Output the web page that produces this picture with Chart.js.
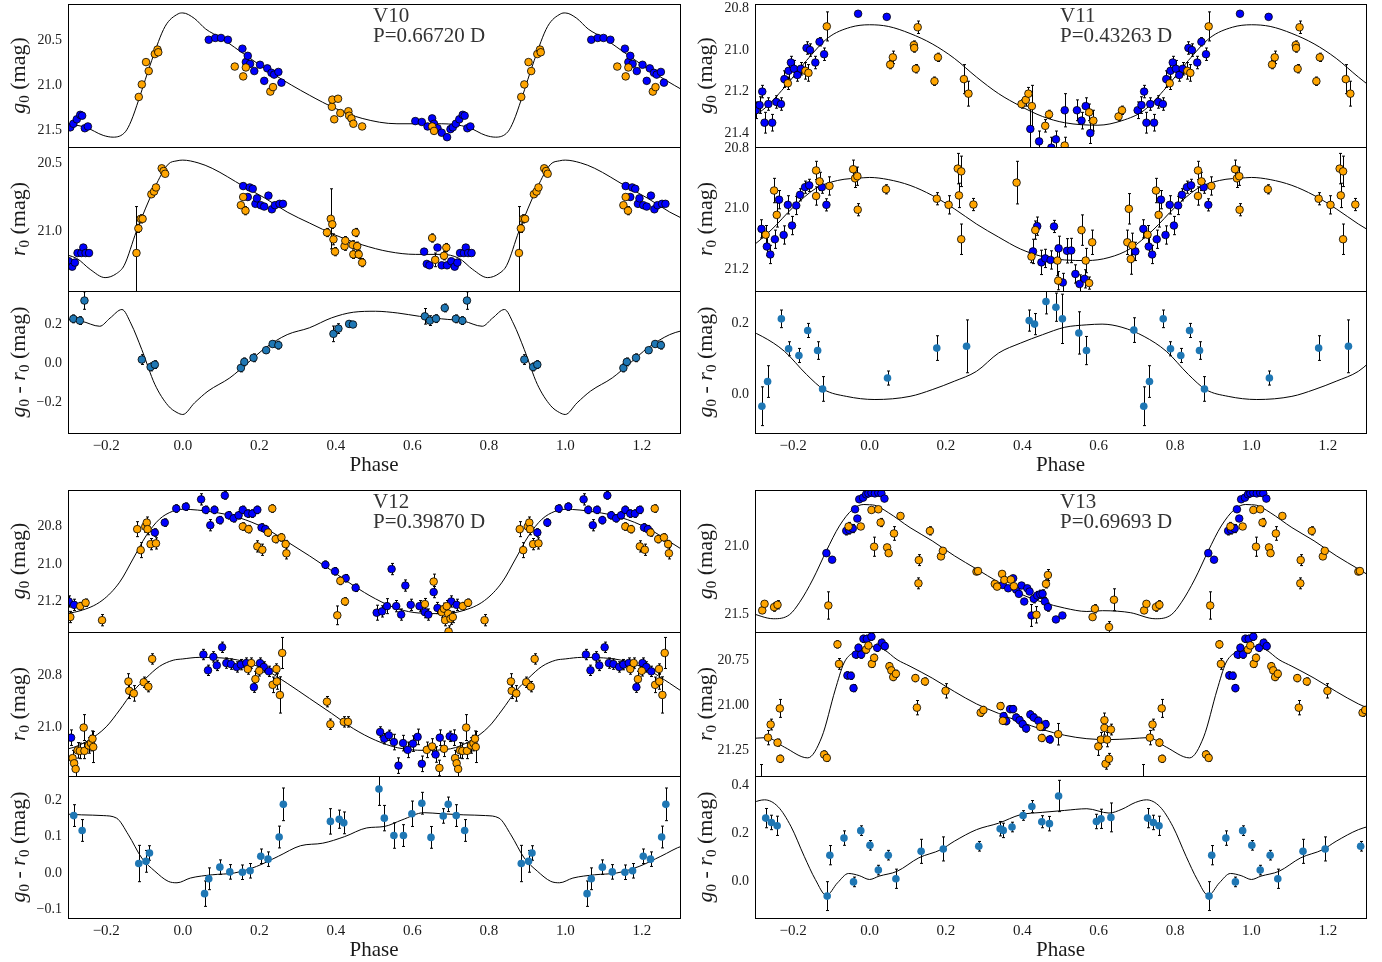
<!DOCTYPE html>
<html>
<head>
<meta charset="utf-8">
<script src="https://cdn.jsdelivr.net/npm/chart.js@4"></script>
<style>
  html, body { margin: 0; padding: 0; background: #fff; }
  body { width: 1382px; height: 962px; position: relative; overflow: hidden; }
  canvas { position: absolute; }
</style>
</head>
<body>
<script>
// ---------- phase-folded photometry: [phase, value, error] over one cycle ----------
const phaseTicks = [-0.2, 0.0, 0.2, 0.4, 0.6, 0.8, 1.0, 1.2];

// V10
const v10gBlue = [[0.068,20.49,0.01],[0.085,20.47,0.01],[0.100,20.47,0.01],[0.118,20.49,0.01],[0.156,20.59,0.02],[0.165,20.74,0.02],[0.170,20.67,0.02],[0.176,20.76,0.02],[0.187,20.84,0.02],[0.202,20.77,0.02],[0.213,20.95,0.02],[0.221,20.81,0.02],[0.232,20.86,0.02],[0.239,20.88,0.02],[0.250,20.85,0.02],[0.258,20.97,0.02],[0.608,21.40,0.01],[0.625,21.41,0.01],[0.640,21.46,0.02],[0.652,21.37,0.02],[0.657,21.43,0.02],[0.666,21.48,0.03],[0.677,21.53,0.02],[0.691,21.58,0.02],[0.700,21.49,0.02],[0.706,21.47,0.02],[0.714,21.43,0.02],[0.723,21.38,0.02],[0.732,21.33,0.02],[0.737,21.34,0.02],[0.744,21.48,0.02],[0.752,21.46,0.02]];
const v10gOrange = [[0.136,20.79,0.02],[0.158,20.90,0.02],[0.165,20.80,0.02],[0.229,21.07,0.02],[0.236,21.02,0.02],[0.390,21.24,0.03],[0.391,21.16,0.03],[0.396,21.38,0.03],[0.406,21.15,0.03],[0.412,21.31,0.03],[0.433,21.29,0.03],[0.435,21.34,0.03],[0.441,21.37,0.03],[0.446,21.43,0.03],[0.469,21.46,0.03],[0.652,21.46,0.03],[0.657,21.51,0.03],[0.885,21.13,0.02],[0.893,20.99,0.02],[0.904,20.74,0.02],[0.911,20.84,0.03],[0.927,20.65,0.02],[0.934,20.60,0.02],[0.936,20.63,0.02]];
const v10gModel = [[0,20.19],[0.03,20.25],[0.06,20.37],[0.1,20.47],[0.17,20.68],[0.239,20.88],[0.331,21.11],[0.40,21.26],[0.469,21.37],[0.56,21.43],[0.677,21.43],[0.746,21.47],[0.792,21.56],[0.818,21.58],[0.85,21.52],[0.865,21.40],[0.885,21.16],[0.919,20.72],[0.954,20.34],[0.988,20.20]];
const v10rBlue = [[0.158,20.67,0.02],[0.170,20.75,0.02],[0.175,20.68,0.02],[0.183,20.69,0.02],[0.190,20.80,0.02],[0.194,20.76,0.02],[0.204,20.81,0.02],[0.213,20.82,0.02],[0.224,20.74,0.02],[0.233,20.84,0.02],[0.241,20.81,0.02],[0.253,20.80,0.02],[0.262,20.80,0.02],[0.631,21.15,0.02],[0.638,21.24,0.02],[0.645,21.25,0.02],[0.666,21.12,0.02],[0.677,21.25,0.02],[0.691,21.25,0.02],[0.702,21.22,0.02],[0.711,21.26,0.02],[0.718,21.23,0.02],[0.725,21.16,0.02],[0.735,21.16,0.02],[0.740,21.12,0.02],[0.746,21.16,0.02],[0.755,21.16,0.02]];
const v10rOrange = [[0.152,20.81,0.02],[0.158,20.75,0.02],[0.164,20.85,0.03],[0.377,21.01,0.03],[0.387,20.91,0.22],[0.391,20.95,0.03],[0.394,21.06,0.04],[0.398,21.15,0.03],[0.423,21.11,0.03],[0.425,21.07,0.03],[0.444,21.10,0.03],[0.446,21.17,0.03],[0.452,21.01,0.03],[0.456,21.11,0.03],[0.460,21.17,0.03],[0.469,21.23,0.03],[0.652,21.05,0.03],[0.660,21.21,0.05],[0.683,21.18,0.03],[0.689,21.12,0.03],[0.879,21.16,0.34],[0.884,20.98,0.03],[0.890,20.91,0.03],[0.895,20.91,0.02],[0.918,20.73,0.02],[0.925,20.71,0.02],[0.930,20.68,0.02],[0.945,20.54,0.02],[0.950,20.56,0.02],[0.954,20.58,0.02]];
const v10rModel = [[0,20.48],[0.04,20.50],[0.077,20.54],[0.158,20.67],[0.216,20.76],[0.273,20.86],[0.331,20.94],[0.40,21.03],[0.469,21.10],[0.539,21.15],[0.608,21.17],[0.677,21.17],[0.723,21.20],[0.758,21.28],[0.797,21.34],[0.827,21.31],[0.847,21.25],[0.879,21.0],[0.927,20.68],[0.962,20.51],[0.985,20.485]];
const v10grPts = [[0.152,-0.026,0.02],[0.161,0.005,0.02],[0.185,0.026,0.02],[0.218,0.065,0.015],[0.235,0.097,0.015],[0.250,0.091,0.02],[0.394,0.149,0.04],[0.407,0.176,0.025],[0.435,0.20,0.015],[0.445,0.197,0.015],[0.633,0.239,0.04],[0.646,0.217,0.025],[0.662,0.227,0.02],[0.685,0.282,0.02],[0.714,0.226,0.02],[0.731,0.217,0.02],[0.743,0.32,0.045],[0.893,0.017,0.025],[0.916,-0.021,0.02],[0.927,-0.009,0.02]];
const v10grModel = [[0,-0.265],[0.031,-0.205],[0.066,-0.145],[0.123,-0.077],[0.17,0.0],[0.216,0.077],[0.273,0.145],[0.331,0.18],[0.389,0.231],[0.446,0.26],[0.504,0.265],[0.562,0.256],[0.619,0.239],[0.677,0.226],[0.735,0.214],[0.783,0.188],[0.81,0.23],[0.841,0.274],[0.865,0.2],[0.893,0.068],[0.927,-0.11],[0.962,-0.22],[0.985,-0.255]];

// V11
const v11gBlue = [[0.970,20.825,0.005],[0.045,20.84,0.005],[0.421,21.38,0.1],[0.444,21.44,0.05],[0.476,21.47,0.05],[0.488,21.43,0.04],[0.511,21.29,0.08],[0.543,21.29,0.05],[0.555,21.34,0.04],[0.566,21.27,0.04],[0.578,21.40,0.05],[0.702,21.29,0.04],[0.712,21.265,0.04],[0.719,21.20,0.03],[0.725,21.35,0.05],[0.735,21.26,0.03],[0.745,21.35,0.04],[0.756,21.25,0.03],[0.768,21.26,0.03],[0.777,21.14,0.04],[0.788,21.10,0.04],[0.794,21.06,0.03],[0.802,21.09,0.04],[0.811,21.12,0.03],[0.820,21.09,0.03],[0.835,20.99,0.03],[0.844,21.00,0.03],[0.858,21.06,0.03],[0.869,20.96,0.02],[0.881,21.02,0.03]];
const v11gOrange = [[0.054,21.07,0.02],[0.061,21.035,0.03],[0.116,20.976,0.02],[0.117,20.99,0.02],[0.121,21.09,0.02],[0.126,20.89,0.03],[0.170,21.15,0.02],[0.179,21.035,0.02],[0.247,21.14,0.07],[0.259,21.21,0.06],[0.398,21.26,0.02],[0.409,21.24,0.03],[0.416,21.21,0.03],[0.425,21.27,0.1],[0.460,21.365,0.03],[0.470,21.31,0.02],[0.511,21.46,0.04],[0.575,21.30,0.04],[0.586,21.34,0.05],[0.652,21.32,0.02],[0.661,21.29,0.02],[0.786,21.16,0.03],[0.832,21.10,0.04],[0.840,21.11,0.04],[0.888,20.886,0.07]];
const v11gModel = [[0,20.878],[0.049,20.886],[0.106,20.92],[0.164,20.97],[0.222,21.04],[0.28,21.13],[0.338,21.21],[0.395,21.27],[0.453,21.32],[0.511,21.35],[0.598,21.362],[0.661,21.34],[0.719,21.29],[0.777,21.18],[0.835,21.05],[0.892,20.94],[0.95,20.89]];
const v11rBlue = [[0.428,21.14,0.04],[0.439,21.057,0.03],[0.45,21.176,0.04],[0.46,21.163,0.03],[0.474,21.168,0.03],[0.483,21.058,0.02],[0.495,21.13,0.04],[0.506,21.242,0.03],[0.517,21.138,0.04],[0.528,21.137,0.04],[0.539,21.214,0.03],[0.55,21.247,0.03],[0.563,21.23,0.03],[0.696,21.14,0.03],[0.717,21.066,0.03],[0.731,21.124,0.03],[0.740,21.15,0.03],[0.752,21.10,0.03],[0.763,20.97,0.03],[0.775,21.086,0.03],[0.786,20.987,0.03],[0.797,21.055,0.03],[0.808,20.989,0.03],[0.818,20.954,0.02],[0.831,20.929,0.02],[0.842,20.923,0.02],[0.875,20.929,0.02],[0.887,20.987,0.02]];
const v11rOrange = [[0.043,20.936,0.015],[0.176,20.967,0.02],[0.207,20.987,0.03],[0.231,20.868,0.05],[0.234,20.956,0.04],[0.240,20.877,0.05],[0.240,21.10,0.05],[0.272,20.986,0.02],[0.385,20.914,0.07],[0.424,21.157,0.02],[0.434,21.07,0.03],[0.492,21.17,0.05],[0.494,21.236,0.03],[0.555,21.07,0.05],[0.566,21.17,0.04],[0.575,21.244,0.02],[0.583,21.11,0.04],[0.675,21.11,0.04],[0.679,21.0,0.05],[0.684,21.165,0.05],[0.688,21.12,0.04],[0.728,21.085,0.03],[0.750,20.94,0.04],[0.757,21.02,0.04],[0.860,20.874,0.03],[0.860,20.958,0.03],[0.869,20.91,0.03],[0.895,20.925,0.03],[0.957,20.87,0.03],[0.962,20.90,0.03],[0.968,20.893,0.03],[0.969,21.003,0.02]];
const v11rModel = [[0,20.897],[0.049,20.904],[0.106,20.923],[0.164,20.956],[0.222,21.0],[0.28,21.05],[0.338,21.093],[0.395,21.132],[0.453,21.157],[0.511,21.168],[0.569,21.17],[0.627,21.16],[0.684,21.13],[0.742,21.07],[0.80,20.995],[0.858,20.934],[0.916,20.907],[0.985,20.898]];
const v11grPts = [[0.047,0.045,0.02],[0.176,0.13,0.035],[0.254,0.135,0.075],[0.418,0.208,0.03],[0.432,0.198,0.03],[0.462,0.262,0.035],[0.488,0.246,0.04],[0.505,0.213,0.07],[0.548,0.173,0.06],[0.568,0.123,0.04],[0.692,0.181,0.035],[0.718,-0.035,0.055],[0.733,0.035,0.045],[0.769,0.213,0.025],[0.788,0.128,0.02],[0.815,0.109,0.02],[0.838,0.18,0.02],[0.864,0.123,0.025],[0.877,0.014,0.035]];
const v11grModel = [[0.014,-0.016],[0.106,-0.007],[0.164,0.012],[0.222,0.036],[0.28,0.064],[0.338,0.116],[0.395,0.144],[0.453,0.168],[0.511,0.189],[0.569,0.196],[0.609,0.198],[0.661,0.189],[0.719,0.163],[0.777,0.121],[0.835,0.055],[0.881,0.012],[0.939,-0.007]];

// V12
const v12gBlue = [[0.008,20.694,0.02],[0.048,20.655,0.03],[0.06,20.711,0.02],[0.072,20.793,0.03],[0.083,20.711,0.02],[0.097,20.766,0.02],[0.11,20.634,0.02],[0.12,20.74,0.02],[0.133,20.756,0.02],[0.146,20.74,0.02],[0.157,20.711,0.02],[0.17,20.731,0.02],[0.182,20.731,0.02],[0.195,20.711,0.02],[0.206,20.805,0.02],[0.216,20.814,0.02],[0.373,21.004,0.02],[0.398,21.039,0.02],[0.426,21.076,0.02],[0.452,21.127,0.02],[0.507,21.26,0.04],[0.521,21.253,0.03],[0.534,21.225,0.04],[0.546,21.027,0.03],[0.558,21.225,0.03],[0.571,21.27,0.03],[0.582,21.115,0.03],[0.596,21.218,0.03],[0.619,21.225,0.03],[0.633,21.257,0.03],[0.642,21.27,0.03],[0.656,21.15,0.03],[0.666,21.235,0.03],[0.702,21.2,0.03],[0.716,21.218,0.03],[0.927,20.832,0.02],[0.953,20.779,0.02],[0.983,20.704,0.02]];
const v12gOrange = [[0.157,20.80,0.02],[0.172,20.814,0.02],[0.195,20.906,0.03],[0.208,20.924,0.03],[0.223,20.832,0.02],[0.234,20.704,0.02],[0.243,20.867,0.02],[0.258,20.858,0.02],[0.269,20.894,0.02],[0.271,20.943,0.03],[0.404,21.274,0.05],[0.412,21.09,0.02],[0.424,21.2,0.02],[0.633,21.214,0.03],[0.656,21.094,0.04],[0.677,21.257,0.03],[0.683,21.239,0.03],[0.686,21.30,0.03],[0.69,21.225,0.03],[0.694,21.265,0.03],[0.695,21.36,0.03],[0.7,21.292,0.03],[0.706,21.283,0.03],[0.732,21.225,0.02],[0.746,21.207,0.02],[0.789,21.30,0.03],[0.881,20.814,0.04],[0.89,20.926,0.04],[0.902,20.80,0.03],[0.906,20.779,0.03],[0.908,20.814,0.03],[0.916,20.894,0.03],[0.93,20.89,0.03]];
const v12gModel = [[0,20.708],[0.077,20.722],[0.146,20.752],[0.216,20.81],[0.273,20.881],[0.331,20.956],[0.389,21.035],[0.446,21.115],[0.504,21.186],[0.562,21.239],[0.619,21.262],[0.677,21.265],[0.731,21.25],[0.789,21.195],[0.835,21.097],[0.87,20.973],[0.904,20.85],[0.939,20.761],[0.973,20.719]];
const v12rBlue = [[0.054,20.718,0.02],[0.066,20.779,0.02],[0.08,20.727,0.02],[0.089,20.76,0.02],[0.103,20.69,0.02],[0.114,20.751,0.02],[0.126,20.755,0.02],[0.141,20.766,0.02],[0.152,20.757,0.02],[0.166,20.751,0.02],[0.186,20.844,0.02],[0.202,20.751,0.02],[0.212,20.766,0.02],[0.225,20.783,0.02],[0.516,21.017,0.02],[0.527,21.043,0.02],[0.539,21.03,0.02],[0.552,21.056,0.03],[0.564,21.147,0.03],[0.576,21.06,0.03],[0.588,21.086,0.03],[0.602,21.062,0.03],[0.614,21.036,0.03],[0.625,21.14,0.03],[0.661,21.104,0.03],[0.672,21.039,0.03],[0.698,21.034,0.02],[0.708,21.039,0.03]];
const v12rOrange = [[0.17,20.774,0.02],[0.179,20.751,0.02],[0.19,20.813,0.03],[0.2,20.781,0.02],[0.235,20.835,0.03],[0.245,20.774,0.02],[0.246,20.822,0.03],[0.254,20.874,0.07],[0.26,20.712,0.06],[0.377,20.9,0.02],[0.386,20.987,0.02],[0.421,20.978,0.02],[0.432,20.978,0.02],[0.638,21.086,0.03],[0.652,21.073,0.03],[0.671,21.156,0.03],[0.683,21.082,0.03],[0.712,21.118,0.03],[0.716,21.138,0.03],[0.72,21.16,0.03],[0.725,21.088,0.03],[0.731,21.09,0.03],[0.741,21.0,0.05],[0.743,21.09,0.03],[0.754,21.069,0.03],[0.76,21.06,0.03],[0.764,21.043,0.03],[0.766,21.075,0.06],[0.858,20.822,0.03],[0.86,20.858,0.03],[0.872,20.868,0.03],[0.898,20.825,0.02],[0.91,20.842,0.02],[0.92,20.735,0.02]];
const v12rModel = [[0,20.735],[0.043,20.729],[0.1,20.731],[0.158,20.744],[0.216,20.777],[0.273,20.829],[0.331,20.887],[0.389,20.945],[0.446,21.004],[0.504,21.049],[0.562,21.078],[0.631,21.088],[0.7,21.082],[0.754,21.049],[0.80,20.997],[0.835,20.932],[0.87,20.861],[0.904,20.809],[0.939,20.764],[0.975,20.74]];
const v12grPts = [[0.057,-0.057,0.035],[0.068,-0.016,0.03],[0.097,0.016,0.02],[0.123,0.003,0.02],[0.156,0.002,0.02],[0.176,0.006,0.02],[0.204,0.046,0.02],[0.223,0.038,0.02],[0.252,0.099,0.03],[0.263,0.189,0.045],[0.386,0.142,0.035],[0.409,0.148,0.025],[0.421,0.138,0.03],[0.513,0.231,0.045],[0.527,0.151,0.035],[0.552,0.103,0.035],[0.577,0.103,0.03],[0.599,0.163,0.035],[0.625,0.192,0.03],[0.649,0.098,0.03],[0.681,0.157,0.02],[0.694,0.189,0.02],[0.715,0.158,0.03],[0.737,0.117,0.03],[0.885,0.026,0.05],[0.904,0.032,0.03],[0.913,0.055,0.02]];
const v12grModel = [[0.02,-0.014],[0.077,-0.005],[0.135,0.0],[0.193,0.018],[0.25,0.046],[0.308,0.075],[0.366,0.082],[0.423,0.10],[0.481,0.124],[0.527,0.128],[0.573,0.146],[0.631,0.166],[0.677,0.163],[0.735,0.16],[0.792,0.158],[0.827,0.151],[0.858,0.105],[0.893,0.041],[0.927,0.005],[0.962,-0.023],[0.985,-0.027]];

// V13
const v13gBlue = [[0.005,20.607,0.02],[0.014,20.612,0.02],[0.023,20.607,0.02],[0.031,20.612,0.02],[0.039,20.65,0.02],[0.349,21.282,0.02],[0.363,21.306,0.02],[0.376,21.233,0.02],[0.384,21.316,0.02],[0.391,21.347,0.02],[0.398,21.286,0.02],[0.405,21.403,0.02],[0.413,21.306,0.02],[0.419,21.33,0.02],[0.424,21.505,0.08],[0.43,21.383,0.03],[0.439,21.359,0.03],[0.447,21.35,0.03],[0.453,21.347,0.03],[0.459,21.403,0.03],[0.467,21.444,0.03],[0.488,21.534,0.02],[0.505,21.505,0.02],[0.887,21.049,0.02],[0.902,21.097,0.02],[0.939,20.886,0.03],[0.947,20.879,0.03],[0.956,20.869,0.03],[0.962,20.728,0.02],[0.968,20.796,0.02],[0.973,20.655,0.02],[0.983,20.643,0.02],[0.991,20.619,0.02],[0.997,20.612,0.02]];
const v13gOrange = [[0.005,20.733,0.02],[0.012,21.002,0.07],[0.023,20.728,0.02],[0.029,20.825,0.03],[0.046,21.007,0.02],[0.05,21.049,0.02],[0.064,20.905,0.05],[0.081,20.777,0.02],[0.128,21.27,0.04],[0.129,21.1,0.04],[0.158,20.886,0.03],[0.187,21.073,0.02],[0.192,21.032,0.02],[0.28,21.184,0.02],[0.284,21.18,0.02],[0.328,21.274,0.02],[0.334,21.294,0.02],[0.347,21.201,0.02],[0.353,21.245,0.02],[0.37,21.243,0.02],[0.378,21.291,0.02],[0.437,21.5,0.06],[0.462,21.274,0.03],[0.467,21.209,0.04],[0.584,21.517,0.02],[0.59,21.456,0.03],[0.627,21.59,0.04],[0.64,21.39,0.08],[0.719,21.468,0.02],[0.725,21.42,0.02],[0.75,21.444,0.03],[0.759,21.427,0.03],[0.892,21.432,0.1],[0.945,20.854,0.03],[0.977,20.854,0.02]];
const v13gModel = [[0,20.695],[0.014,20.699],[0.049,20.752],[0.106,20.862],[0.164,20.959],[0.222,21.068],[0.28,21.165],[0.338,21.262],[0.395,21.347],[0.453,21.408],[0.511,21.451],[0.569,21.476],[0.61,21.47],[0.65,21.474],[0.684,21.485],[0.748,21.529],[0.79,21.5],[0.817,21.408],[0.852,21.238],[0.887,21.032],[0.921,20.85],[0.956,20.728],[0.985,20.693]];
const v13rBlue = [[0.005,20.617,0.02],[0.02,20.679,0.02],[0.032,20.651,0.02],[0.04,20.67,0.02],[0.351,21.06,0.02],[0.358,21.088,0.02],[0.368,21.021,0.02],[0.376,21.021,0.02],[0.384,21.068,0.02],[0.393,21.083,0.02],[0.401,21.105,0.02],[0.41,21.129,0.02],[0.421,21.051,0.02],[0.43,21.068,0.02],[0.442,21.086,0.02],[0.453,21.12,0.02],[0.461,21.105,0.02],[0.472,21.19,0.02],[0.942,20.833,0.02],[0.951,20.835,0.02],[0.958,20.904,0.02],[0.964,20.717,0.02],[0.971,20.679,0.02],[0.978,20.717,0.02],[0.984,20.629,0.02],[0.993,20.629,0.02]];
const v13rOrange = [[0.006,20.769,0.02],[0.012,20.735,0.02],[0.052,20.782,0.02],[0.057,20.805,0.02],[0.062,20.842,0.02],[0.069,20.824,0.02],[0.12,20.848,0.02],[0.124,21.013,0.04],[0.145,20.867,0.02],[0.199,20.919,0.04],[0.291,21.041,0.02],[0.298,21.026,0.02],[0.343,21.004,0.02],[0.349,21.086,0.02],[0.447,21.12,0.02],[0.451,21.182,0.02],[0.494,21.161,0.06],[0.599,21.229,0.05],[0.606,21.191,0.04],[0.615,21.083,0.04],[0.615,21.126,0.04],[0.618,21.326,0.03],[0.622,21.191,0.04],[0.627,21.298,0.03],[0.632,21.135,0.03],[0.717,21.43,0.1],[0.734,21.18,0.04],[0.741,21.107,0.03],[0.759,21.208,0.02],[0.765,21.017,0.05],[0.766,21.298,0.02],[0.881,21.274,0.02],[0.888,21.293,0.02],[0.916,20.66,0.02],[0.92,20.769,0.03],[0.991,20.689,0.02],[0.997,20.666,0.02]];
const v13rModel = [[0,20.672],[0.037,20.689],[0.072,20.745],[0.106,20.782],[0.164,20.848],[0.222,20.923],[0.28,20.992],[0.338,21.045],[0.395,21.092],[0.453,21.135],[0.511,21.167],[0.569,21.186],[0.627,21.191],[0.684,21.186],[0.731,21.18],[0.777,21.233],[0.838,21.293],[0.875,21.176],[0.91,20.914],[0.933,20.764],[0.956,20.707],[0.991,20.679]];
const v13grPts = [[0.001,0.149,0.02],[0.023,0.046,0.02],[0.049,0.108,0.02],[0.069,0.01,0.04],[0.135,0.124,0.05],[0.193,0.134,0.05],[0.286,0.145,0.02],[0.342,0.218,0.03],[0.35,0.211,0.03],[0.373,0.225,0.02],[0.402,0.273,0.02],[0.425,0.31,0.025],[0.451,0.247,0.025],[0.471,0.239,0.03],[0.495,0.354,0.065],[0.594,0.248,0.03],[0.606,0.259,0.04],[0.632,0.265,0.06],[0.728,0.262,0.04],[0.743,0.244,0.03],[0.758,0.23,0.04],[0.889,-0.062,0.06],[0.896,0.108,0.04],[0.933,0.179,0.03],[0.958,-0.003,0.02],[0.977,0.21,0.02]];
const v13grModel = [[0,0.007],[0.025,0.021],[0.072,0.041],[0.129,0.097],[0.187,0.131],[0.222,0.166],[0.28,0.214],[0.338,0.241],[0.395,0.276],[0.453,0.286],[0.511,0.294],[0.569,0.301],[0.627,0.283],[0.661,0.299],[0.696,0.327],[0.725,0.338],[0.76,0.31],[0.794,0.228],[0.829,0.103],[0.858,0.007],[0.887,-0.059],[0.916,-0.007],[0.945,0.032],[0.973,0.023]];

// y-axis tick values per panel
const v10gTicks = [20.5, 21.0, 21.5], v10rTicks = [20.5, 21.0], v10grTicks = [-0.2, 0.0, 0.2];
const v11gTicks = [20.8, 21.0, 21.2, 21.4], v11rTicks = [20.8, 21.0, 21.2], v11grTicks = [0.0, 0.2];
const v12gTicks = [20.8, 21.0, 21.2], v12rTicks = [20.8, 21.0], v12grTicks = [-0.1, 0.0, 0.1, 0.2];
const v13gTicks = [21.0, 21.5], v13rTicks = [20.75, 21.00, 21.25], v13grTicks = [0.0, 0.2, 0.4];

// ---------- drawing ----------
const FONT = "'Liberation Serif', 'Times New Roman', serif";
const INK = '#1a1a1a';
const BLUE = '#0000ff', ORANGE = '#ffa500', STEEL = '#1f77b4';
const AXW = 68;   // room for y tick labels and title
const PAD = 22;   // overlap margin between stacked canvases

// repeat one cycle so the page shows phase -0.3 .. 1.3
function fold(rows, lo, hi) {
  const out = [];
  for (const r of rows) {
    for (const k of [-1, 0, 1]) {
      const x = r[0] + k;
      if (x >= lo && x <= hi) out.push({ x: x, y: r[1], e: r.length > 2 ? r[2] : 0 });
    }
  }
  return out.sort((a, b) => a.x - b.x);
}

function fmt(dec) {
  return v => (v < 0 ? '\u2212' : '') + Math.abs(v).toFixed(dec);
}

const TITLES = {
  g:  [['g', 'i'], ['0', 's'], [' (mag)', '']],
  r:  [['r', 'i'], ['0', 's'], [' (mag)', '']],
  gr: [['g', 'i'], ['0', 's'], [' - ', ''], ['r', 'i'], ['0', 's'], [' (mag)', '']]
};

const panelPlugin = {
  id: 'panelDecor',
  beforeDatasetsDraw(chart) {
    const { ctx, chartArea: a } = chart;
    const ys = chart.scales.y;
    ctx.save();
    ctx.beginPath();
    ctx.rect(a.left, a.top, a.right - a.left, a.bottom - a.top);
    ctx.clip();
    ctx.strokeStyle = '#000';
    ctx.lineWidth = 1;
    chart.data.datasets.forEach((ds, i) => {
      if (!ds.errorBars) return;
      const meta = chart.getDatasetMeta(i);
      ds.data.forEach((d, j) => {
        const el = meta.data[j];
        if (!el || !d.e) return;
        const x = Math.round(el.x) + 0.5;
        const y1 = ys.getPixelForValue(d.y - d.e);
        const y2 = ys.getPixelForValue(d.y + d.e);
        ctx.beginPath();
        ctx.moveTo(x, y1); ctx.lineTo(x, y2);
        ctx.moveTo(x - 1.5, y1); ctx.lineTo(x + 1.5, y1);
        ctx.moveTo(x - 1.5, y2); ctx.lineTo(x + 1.5, y2);
        ctx.stroke();
      });
    });
    ctx.restore();
  },
  afterDraw(chart, args, opts) {
    const { ctx, chartArea: a } = chart;
    ctx.save();
    // axes box
    ctx.strokeStyle = '#000';
    ctx.lineWidth = 1;
    ctx.strokeRect(Math.round(a.left) + 0.5, Math.round(a.top) + 0.5,
                   Math.round(a.right - a.left), Math.round(a.bottom - a.top));
    // y-axis title with italic band letter and subscript
    const segs = TITLES[opts.title];
    if (segs) {
      const big = 22, small = 15;
      const fonts = segs.map(s => s[1] === 'i' ? `italic ${big}px ${FONT}` :
                                  s[1] === 's' ? `${small}px ${FONT}` : `${big}px ${FONT}`);
      let total = 0;
      const widths = segs.map((s, k) => { ctx.font = fonts[k]; const w = ctx.measureText(s[0]).width; total += w; return w; });
      ctx.translate(a.left - AXW + opts.titleBase, (a.top + a.bottom) / 2);
      ctx.rotate(-Math.PI / 2);
      ctx.fillStyle = INK;
      ctx.textBaseline = 'alphabetic';
      ctx.textAlign = 'left';
      let x = -total / 2;
      segs.forEach((s, k) => {
        ctx.font = fonts[k];
        ctx.fillText(s[0], x, s[1] === 's' ? 4 : 0);
        x += widths[k];
      });
      ctx.setTransform(1, 0, 0, 1, 0, 0);
    }
    // star name and period
    if (opts.label) {
      ctx.font = `21px ${FONT}`;
      ctx.fillStyle = '#333';
      ctx.textBaseline = 'middle';
      ctx.textAlign = 'left';
      ctx.fillText(opts.label[0], a.left + 305, a.top + 12);
      ctx.fillText(opts.label[1], a.left + 305, a.top + 32);
    }
    ctx.restore();
  }
};

function makeSubplot(frame, spec) {
  const [L, T, R, B] = frame;
  const bottomAxis = !!spec.bottomAxis;
  const w = (R - L) + AXW + PAD;
  const h = (B - T) + PAD + (bottomAxis ? 45 : PAD);
  const cv = document.createElement('canvas');
  cv.width = w; cv.height = h;
  cv.style.width = w + 'px'; cv.style.height = h + 'px';
  cv.style.left = (L - AXW) + 'px';
  cv.style.top = (T - PAD) + 'px';
  document.body.appendChild(cv);

  const datasets = [];
  datasets.push({
    data: fold(spec.model, -0.5, 1.5).map(p => ({ x: p.x, y: p.y })),
    showLine: true, borderColor: '#000', borderWidth: 1, pointRadius: 0,
    cubicInterpolationMode: 'monotone', fill: false, order: 5
  });
  const pt = (rows, color, edge, order) => ({
    data: fold(rows, -0.3, 1.3), errorBars: true,
    pointRadius: 3.8, pointBackgroundColor: color,
    pointBorderColor: '#000', pointBorderWidth: edge,
    showLine: false, order: order
  });
  if (spec.blue) datasets.push(pt(spec.blue, BLUE, 0.8, 2));
  if (spec.orange) datasets.push(pt(spec.orange, ORANGE, 0.8, 1));
  if (spec.gr) datasets.push(pt(spec.gr, STEEL, spec.grEdge ? 0.8 : 0, 1));

  const xScale = {
    type: 'linear', min: -0.3, max: 1.3, display: bottomAxis,
    grid: { display: false, drawTicks: false }, border: { display: false },
    afterBuildTicks: s => { s.ticks = phaseTicks.map(v => ({ value: v })); },
    ticks: { autoSkip: false, maxRotation: 0, padding: 4, color: INK,
             font: { family: FONT, size: 15 }, callback: fmt(1) },
    title: { display: true, text: 'Phase', color: INK, padding: 0,
             font: { family: FONT, size: 21 } }
  };
  if (bottomAxis) xScale.afterFit = s => { s.height = 45; };

  new Chart(cv, {
    type: 'scatter',
    data: { datasets },
    options: {
      responsive: false, animation: false, events: [],
      layout: { padding: { left: 0, right: PAD, top: PAD, bottom: bottomAxis ? 0 : PAD } },
      plugins: {
        legend: { display: false }, tooltip: { enabled: false },
        panelDecor: { title: spec.title, titleBase: spec.titleBase, label: spec.label }
      },
      scales: {
        x: xScale,
        y: {
          type: 'linear', min: spec.range[0], max: spec.range[1], reverse: !!spec.reverse,
          grid: { display: false, drawTicks: false }, border: { display: false },
          afterBuildTicks: s => { s.ticks = spec.ticks.map(v => ({ value: v })); },
          afterFit: s => { s.width = AXW; },
          ticks: { autoSkip: false, padding: 6, color: INK,
                   font: { family: FONT, size: 14 }, callback: fmt(spec.dec) }
        }
      }
    },
    plugins: [panelPlugin]
  });
}

const COLS = [[68, 680], [755, 1366]];
const ROWS = [[4, 147, 291, 433], [490, 632, 776, 918]];

const stars = [
  { col: 0, row: 0, label: ['V10', 'P=0.66720 D'], grEdge: true,
    g:  { range: [20.09, 21.69], ticks: v10gTicks, dec: 1, blue: v10gBlue, orange: v10gOrange, model: v10gModel },
    r:  { range: [20.384, 21.438], ticks: v10rTicks, dec: 1, blue: v10rBlue, orange: v10rOrange, model: v10rModel },
    gr: { range: [-0.36, 0.369], ticks: v10grTicks, dec: 1, pts: v10grPts, model: v10grModel } },
  { col: 1, row: 0, label: ['V11', 'P=0.43263 D'], grEdge: false,
    g:  { range: [20.778, 21.467], ticks: v11gTicks, dec: 1, blue: v11gBlue, orange: v11gOrange, model: v11gModel },
    r:  { range: [20.797, 21.27], ticks: v11rTicks, dec: 1, blue: v11rBlue, orange: v11rOrange, model: v11rModel },
    gr: { range: [-0.111, 0.292], ticks: v11grTicks, dec: 1, pts: v11grPts, model: v11grModel } },
  { col: 0, row: 1, label: ['V12', 'P=0.39870 D'], grEdge: false,
    g:  { range: [20.605, 21.363], ticks: v12gTicks, dec: 1, blue: v12gBlue, orange: v12gOrange, model: v12gModel },
    r:  { range: [20.631, 21.187], ticks: v12rTicks, dec: 1, blue: v12rBlue, orange: v12rOrange, model: v12rModel },
    gr: { range: [-0.124, 0.267], ticks: v12grTicks, dec: 1, pts: v12grPts, model: v12grModel } },
  { col: 1, row: 1, label: ['V13', 'P=0.69693 D'], grEdge: false,
    g:  { range: [20.587, 21.626], ticks: v13gTicks, dec: 1, blue: v13gBlue, orange: v13gOrange, model: v13gModel },
    r:  { range: [20.591, 21.394], ticks: v13rTicks, dec: 2, blue: v13rBlue, orange: v13rOrange, model: v13rModel },
    gr: { range: [-0.153, 0.437], ticks: v13grTicks, dec: 1, pts: v13grPts, model: v13grModel } }
];

stars.forEach(st => {
  const [L, R] = COLS[st.col];
  const ys = ROWS[st.row];
  const base = 25;
  makeSubplot([L, ys[0], R, ys[1]], Object.assign({}, st.g,
    { reverse: true, title: 'g', titleBase: base, label: st.label }));
  makeSubplot([L, ys[1], R, ys[2]], Object.assign({}, st.r,
    { reverse: true, title: 'r', titleBase: base }));
  makeSubplot([L, ys[2], R, ys[3]], Object.assign({}, st.gr,
    { gr: st.gr.pts, grEdge: st.grEdge, title: 'gr', titleBase: base, bottomAxis: true }));
});
</script>
</body>
</html>
